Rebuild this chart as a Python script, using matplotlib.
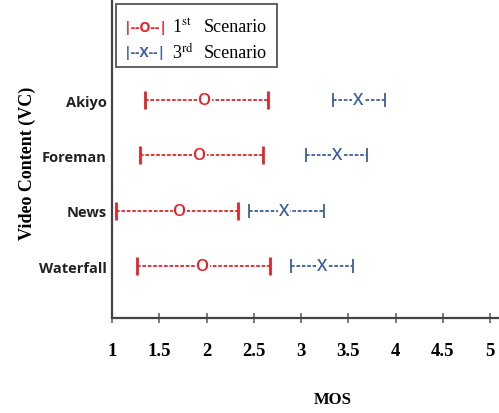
import matplotlib
matplotlib.use('Agg')
import matplotlib.pyplot as plt
from matplotlib.patches import Rectangle

plt.rcParams['mathtext.fontset'] = 'stix'

# ------------------------------------------------------------
# Data: MOS ranges (low, mean, high) per video content
# ------------------------------------------------------------
videos = ["Waterfall", "News", "Foreman", "Akiyo"]

s1_low  = [1.26, 1.04, 1.30, 1.35]
s1_mean = [1.96, 1.72, 1.93, 1.98]
s1_high = [2.67, 2.33, 2.60, 2.65]

s3_low  = [2.89, 2.45, 3.05, 3.34]
s3_mean = [3.22, 2.82, 3.38, 3.60]
s3_high = [3.55, 3.24, 3.70, 3.89]

x_ticks = [1, 1.5, 2, 2.5, 3, 3.5, 4, 4.5, 5]

RED  = "#e3232b"
BLUE = "#3d5f99"
SERIF = "Liberation Serif"
SANS  = "Open Sans"

fig = plt.figure(figsize=(4.99, 4.14), dpi=100)
ax = fig.add_axes([112 / 499, 95 / 414, 387 / 499, 319 / 414])

ypos = list(range(1, len(videos) + 1))


def draw_series(lo, mean, hi, color, letter, capsize, capthick):
    xerr = [[m - l for m, l in zip(mean, lo)], [h - m for h, m in zip(hi, mean)]]
    eb = ax.errorbar(mean, ypos, xerr=xerr, fmt="none", ecolor=color,
                     elinewidth=1.3, capsize=capsize, capthick=capthick, zorder=2)
    for lc in eb[2]:
        lc.set_linestyle((0, (2.0, 1.0)))
    for m, y in zip(mean, ypos):
        ax.text(m, y, letter, color=color, fontsize=12, family=SANS, fontweight="semibold",
                ha="center", va="center", zorder=3,
                bbox=dict(boxstyle="square,pad=0.05", fc="white", ec="none"))


draw_series(s1_low, s1_mean, s1_high, RED, "O", 6.2, 2.0)
draw_series(s3_low, s3_mean, s3_high, BLUE, "X", 5.0, 1.3)

ax.set_xlim(1, 1 + 387 / 94.5)
ax.set_ylim(0.06, 5.83)
ax.set_xticks(x_ticks)
ax.set_xticklabels([f"{t:g}" for t in x_ticks], family=SERIF, fontweight="bold", fontsize=13.5)
ax.set_yticks(ypos)
ax.set_yticklabels(videos, family=SANS, fontweight="bold", fontsize=10.5, color="#222222")

for side in ("top", "right"):
    ax.spines[side].set_visible(False)
for side in ("left", "bottom"):
    ax.spines[side].set_color("#444444")
    ax.spines[side].set_linewidth(1.6)

ax.tick_params(axis="x", direction="inout", length=7, width=1.2, color="#666666", pad=14)
ax.tick_params(axis="y", length=0, pad=4)

fig.text(27 / 499, 1 - 163 / 414, "Video Content (VC)", rotation=90, family=SERIF,
         fontweight="bold", fontsize=13, ha="center", va="center")
fig.text(333 / 499, 1 - 400 / 414, "MOS", family=SERIF, fontweight="bold",
         fontsize=12, ha="center", va="center")

# legend box drawn by hand to match the "|--O--|" style entries
box = Rectangle((116, 414 - 68), 161, 63, transform=None, fill=False,
                ec="#555555", lw=1.3, zorder=5)
fig.patches.append(box)
entries = [("|--O--|", RED, r"1$^{\rm st}$", 28), ("|--X--|", BLUE, r"3$^{\rm rd}$", 53)]
for handle, color, num, y in entries:
    fy = 1 - y / 414
    fig.text(124 / 499, fy, handle, color=color, family=SANS, fontsize=10,
             fontweight="bold", va="center")
    fig.text(172 / 499, fy, num, family=SERIF, fontsize=13, va="center")
    fig.text(204 / 499, fy, "Scenario", family=SERIF, fontsize=13, va="center")

fig.savefig("out.png", dpi=100)
